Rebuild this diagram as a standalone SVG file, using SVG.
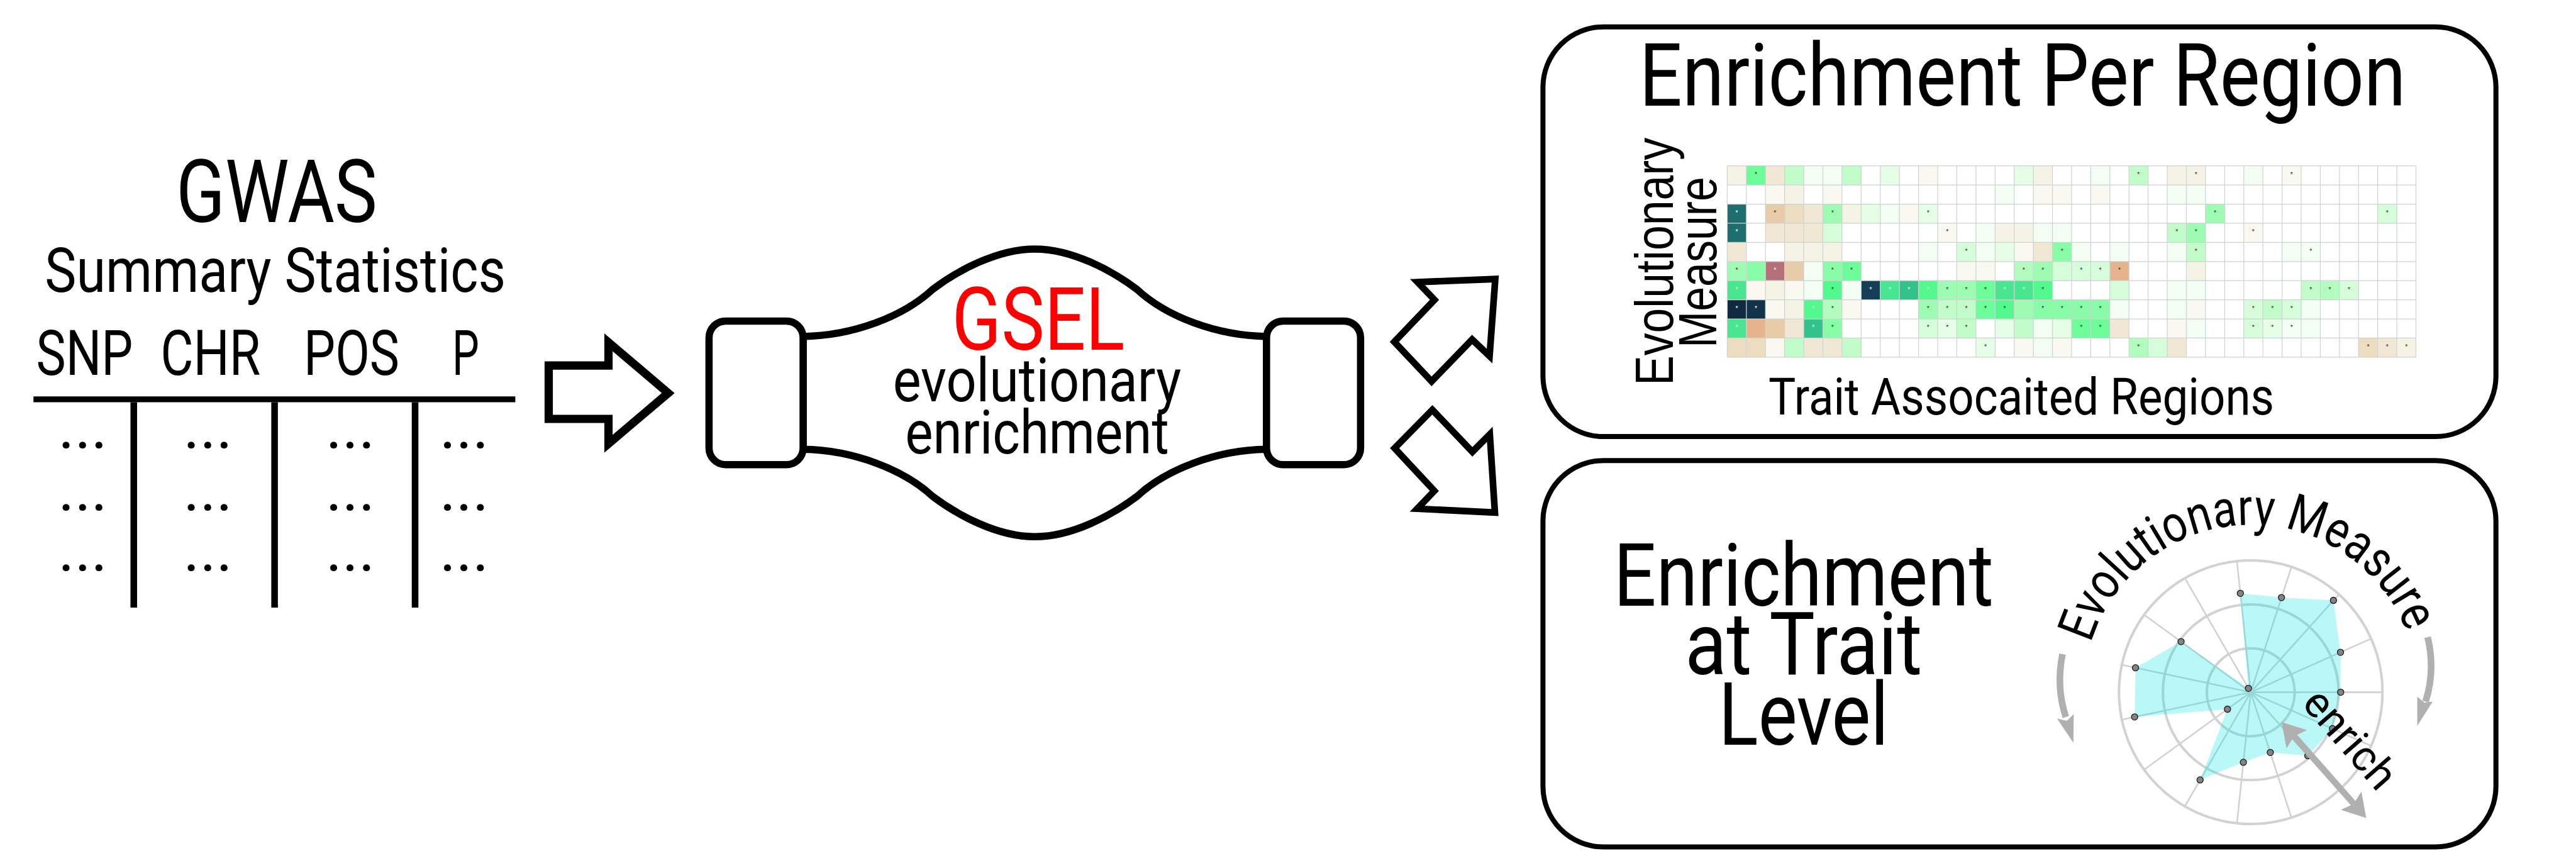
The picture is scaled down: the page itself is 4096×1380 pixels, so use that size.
<svg xmlns="http://www.w3.org/2000/svg" width="4096" height="1380" viewBox="0 0 4096 1380">
<defs>
<style>
text{font-family:Roboto,"Liberation Sans",sans-serif;fill:#000}
.lib{font-family:"Liberation Sans",Arial,sans-serif}
.red{fill:#ff0000}
.ln{stroke:#000;fill:none}
.box{fill:#fff;stroke:#000;stroke-width:8}
.gs{fill:#fff;stroke:#000;stroke-width:11.5}
.blk{fill:#fff;stroke:#000;stroke-miterlimit:12;stroke-linejoin:miter}
.g0{fill:#f3fdf3}.g1{fill:#e6fde6}.g2{fill:#d6fdda}.g3{fill:#c2fcca}.g4{fill:#b2fcc0}.g5{fill:#9efcb2}
.g6{fill:#88fca6}.g7{fill:#6cfc9a}.g8{fill:#52fa8e}.g9{fill:#48e690}.g10{fill:#34c28c}
.t1{fill:#1e6e70}.n1{fill:#143f56}.n2{fill:#0f2a3e}.n3{fill:#113349}
.b0{fill:#f9f9f1}.b1{fill:#f5f3e6}.b2{fill:#f0e8d4}.b3{fill:#ecdcc0}.b4{fill:#e8ccaa}.b5{fill:#e6b48c}.m1{fill:#b4717a}
.hg{fill:none;stroke:#ccd4d2;stroke-width:0.04}
.st{font-family:"Liberation Sans",Arial,sans-serif;font-size:10.5px;text-anchor:middle;fill:#333}
.sw{fill:#fff}
.rg{fill:none;stroke:#d2d2d2}
.dot{fill:#848484;stroke:#1a1a1a;stroke-width:1.3}
.garr{fill:#b0b0b0}
.gsh{fill:none;stroke:#b0b0b0;stroke-width:10.6}
.dt{font-size:99px;text-anchor:middle}
</style>
<path id="arcText" d="M3324.4 1022.8 A266 266 0 0 1 3827.1 1005.3" fill="none"/>
</defs>
<rect x="0" y="0" width="4096" height="1380" fill="#fff"/>

<g id="gwas-table">
<text x="439.9" y="353.1" font-size="139" text-anchor="middle" textLength="320" lengthAdjust="spacingAndGlyphs">GWAS</text>
<text x="437.7" y="463.6" font-size="98.4" text-anchor="middle" textLength="732.7" lengthAdjust="spacingAndGlyphs">Summary Statistics</text>
<text x="57.6" y="596.3" font-size="99.3" textLength="153.7" lengthAdjust="spacingAndGlyphs">SNP</text>
<text x="255.2" y="596.3" font-size="99.3" textLength="159.2" lengthAdjust="spacingAndGlyphs">CHR</text>
<text x="483" y="596.3" font-size="99.3" textLength="152" lengthAdjust="spacingAndGlyphs">POS</text>
<text x="719" y="596.3" font-size="99.3" textLength="42.9" lengthAdjust="spacingAndGlyphs">P</text>
<path class="ln" stroke-width="9.2" d="M53.2 634.8H819.4"/>
<path class="ln" stroke-width="10.5" d="M212.7 639.4V966.1M436.6 639.4V966.1M660 639.4V966.1"/>
<text class="dt" x="131.7" y="712.3">...</text><text class="dt" x="330.7" y="712.3">...</text><text class="dt" x="557.1" y="712.3">...</text><text class="dt" x="738.1" y="712.3">...</text>
<text class="dt" x="131.7" y="811.2">...</text><text class="dt" x="330.7" y="811.2">...</text><text class="dt" x="557.1" y="811.2">...</text><text class="dt" x="738.1" y="811.2">...</text>
<text class="dt" x="131.7" y="907.4">...</text><text class="dt" x="330.7" y="907.4">...</text><text class="dt" x="557.1" y="907.4">...</text><text class="dt" x="738.1" y="907.4">...</text>
</g>

<g id="gsel">
<path class="gs" d="M1277 534.9 C1357.1 533.6 1436.5 503.1 1482.9 460.1 C1522.6 430.3 1585.5 395.9 1645.4 395.9 C1705.3 395.9 1768.2 430.3 1807.9 460.1 C1854.3 503.1 1933.7 533.6 2013.8 534.9 L2013.8 714.3 C1933.7 715.6 1854.3 746.1 1807.9 789.1 C1768.2 818.9 1705.3 853.3 1645.4 853.3 C1585.5 853.3 1522.6 818.9 1482.9 789.1 C1436.5 746.1 1357.1 715.6 1277 714.3 Z"/>
<rect class="gs" x="1127.4" y="510.4" width="149.6" height="228.4" rx="26.5"/>
<rect class="gs" x="2013.8" y="510.4" width="149.6" height="228.4" rx="26.5"/>
<text class="red" x="1651" y="556" font-size="139" text-anchor="middle" textLength="275" lengthAdjust="spacingAndGlyphs">GSEL</text>
<text x="1649" y="638.4" font-size="96" text-anchor="middle" textLength="458.4" lengthAdjust="spacingAndGlyphs">evolutionary</text>
<text x="1649" y="720.9" font-size="96" text-anchor="middle" textLength="419.4" lengthAdjust="spacingAndGlyphs">enrichment</text>
</g>

<g id="connectors">
<polygon class="blk" stroke-width="13.2" points="872.5,581.2 967.5,581.2 967.5,544.2 1062.5,624.9 967.5,705.6 967.5,666 872.5,666"/>
<polygon class="blk" stroke-width="10.6" points="2276.4,606.3 2340.8,539.8 2368.5,566.2 2377.6,443.6 2254,448.5 2280.9,476.7 2217,543.5"/>
<polygon class="blk" stroke-width="10.6" points="2277.5,651.5 2341.2,718.3 2368.9,690.5 2377,814.9 2253.5,808.7 2280.7,780.5 2217.5,712.5"/>
</g>

<g id="enrichment-per-region">
<rect class="box" x="2453.4" y="42.7" width="1515.3" height="651.4" rx="96"/>
<text x="3216" y="168.1" font-size="140" text-anchor="middle" textLength="1219" lengthAdjust="spacingAndGlyphs">Enrichment Per Region</text>
<text class="lib" transform="translate(2659.9 416) rotate(-90)" font-size="86" text-anchor="middle" textLength="394" lengthAdjust="spacingAndGlyphs">Evolutionary</text>
<text class="lib" transform="translate(2729.4 417) rotate(-90)" font-size="86" text-anchor="middle" textLength="272" lengthAdjust="spacingAndGlyphs">Measure</text>
<text x="3214" y="659.4" font-size="81.6" text-anchor="middle" textLength="804" lengthAdjust="spacingAndGlyphs">Trait Assocaited Regions</text>
<g id="heatmap" transform="translate(2746.4 263.7) scale(30.42)">
<rect x="0" y="0" width="36" height="10" fill="#fff"/>
<rect class="b1" x="0" y="0" width="1" height="1"/><rect class="g7" x="1" y="0" width="1" height="1"/><rect class="b2" x="2" y="0" width="1" height="1"/><rect class="g3" x="3" y="0" width="1" height="1"/><rect class="g0" x="4" y="0" width="1" height="1"/><rect class="g0" x="5" y="0" width="1" height="1"/><rect class="g3" x="6" y="0" width="1" height="1"/><rect class="g1" x="8" y="0" width="1" height="1"/><rect class="b0" x="10" y="0" width="1" height="1"/><rect class="g1" x="15" y="0" width="1" height="1"/><rect class="b1" x="16" y="0" width="1" height="1"/><rect class="g0" x="19" y="0" width="1" height="1"/><rect class="g3" x="21" y="0" width="1" height="1"/><rect class="b1" x="23" y="0" width="1" height="1"/><rect class="b1" x="24" y="0" width="1" height="1"/><rect class="g0" x="27" y="0" width="1" height="1"/><rect class="b0" x="29" y="0" width="1" height="1"/>
<rect class="b0" x="2" y="1" width="1" height="1"/><rect class="b1" x="3" y="1" width="1" height="1"/><rect class="b0" x="5" y="1" width="1" height="1"/><rect class="g0" x="14" y="1" width="1" height="1"/><rect class="b0" x="16" y="1" width="1" height="1"/><rect class="b0" x="17" y="1" width="1" height="1"/><rect class="b0" x="19" y="1" width="1" height="1"/><rect class="g0" x="23" y="1" width="1" height="1"/><rect class="g0" x="24" y="1" width="1" height="1"/>
<rect class="t1" x="0" y="2" width="1" height="1"/><rect class="b4" x="2" y="2" width="1" height="1"/><rect class="b3" x="3" y="2" width="1" height="1"/><rect class="b2" x="4" y="2" width="1" height="1"/><rect class="g5" x="5" y="2" width="1" height="1"/><rect class="b1" x="6" y="2" width="1" height="1"/><rect class="g1" x="7" y="2" width="1" height="1"/><rect class="g0" x="8" y="2" width="1" height="1"/><rect class="b0" x="9" y="2" width="1" height="1"/><rect class="g1" x="10" y="2" width="1" height="1"/><rect class="g5" x="25" y="2" width="1" height="1"/><rect class="g2" x="34" y="2" width="1" height="1"/>
<rect class="t1" x="0" y="3" width="1" height="1"/><rect class="b2" x="2" y="3" width="1" height="1"/><rect class="b2" x="3" y="3" width="1" height="1"/><rect class="b2" x="4" y="3" width="1" height="1"/><rect class="g2" x="5" y="3" width="1" height="1"/><rect class="b0" x="11" y="3" width="1" height="1"/><rect class="g0" x="13" y="3" width="1" height="1"/><rect class="b1" x="14" y="3" width="1" height="1"/><rect class="b1" x="15" y="3" width="1" height="1"/><rect class="g0" x="16" y="3" width="1" height="1"/><rect class="g0" x="17" y="3" width="1" height="1"/><rect class="g3" x="23" y="3" width="1" height="1"/><rect class="g5" x="24" y="3" width="1" height="1"/><rect class="b0" x="27" y="3" width="1" height="1"/>
<rect class="b2" x="0" y="4" width="1" height="1"/><rect class="b1" x="3" y="4" width="1" height="1"/><rect class="b1" x="4" y="4" width="1" height="1"/><rect class="b1" x="5" y="4" width="1" height="1"/><rect class="g0" x="10" y="4" width="1" height="1"/><rect class="g2" x="12" y="4" width="1" height="1"/><rect class="g0" x="13" y="4" width="1" height="1"/><rect class="g1" x="14" y="4" width="1" height="1"/><rect class="b0" x="15" y="4" width="1" height="1"/><rect class="b2" x="16" y="4" width="1" height="1"/><rect class="g6" x="17" y="4" width="1" height="1"/><rect class="g0" x="18" y="4" width="1" height="1"/><rect class="g0" x="20" y="4" width="1" height="1"/><rect class="g0" x="23" y="4" width="1" height="1"/><rect class="g3" x="24" y="4" width="1" height="1"/><rect class="g0" x="29" y="4" width="1" height="1"/><rect class="g0" x="30" y="4" width="1" height="1"/>
<rect class="g5" x="0" y="5" width="1" height="1"/><rect class="g6" x="1" y="5" width="1" height="1"/><rect class="m1" x="2" y="5" width="1" height="1"/><rect class="b4" x="3" y="5" width="1" height="1"/><rect class="g0" x="4" y="5" width="1" height="1"/><rect class="g6" x="5" y="5" width="1" height="1"/><rect class="g7" x="6" y="5" width="1" height="1"/><rect class="b0" x="12" y="5" width="1" height="1"/><rect class="b0" x="13" y="5" width="1" height="1"/><rect class="g4" x="15" y="5" width="1" height="1"/><rect class="g5" x="16" y="5" width="1" height="1"/><rect class="g2" x="17" y="5" width="1" height="1"/><rect class="g2" x="18" y="5" width="1" height="1"/><rect class="g2" x="19" y="5" width="1" height="1"/><rect class="b5" x="20" y="5" width="1" height="1"/><rect class="b1" x="24" y="5" width="1" height="1"/>
<rect class="g9" x="0" y="6" width="1" height="1"/><rect class="b0" x="1" y="6" width="1" height="1"/><rect class="b1" x="2" y="6" width="1" height="1"/><rect class="b0" x="3" y="6" width="1" height="1"/><rect class="g0" x="4" y="6" width="1" height="1"/><rect class="g8" x="5" y="6" width="1" height="1"/><rect class="g0" x="6" y="6" width="1" height="1"/><rect class="n1" x="7" y="6" width="1" height="1"/><rect class="g9" x="8" y="6" width="1" height="1"/><rect class="g10" x="9" y="6" width="1" height="1"/><rect class="g8" x="10" y="6" width="1" height="1"/><rect class="g5" x="11" y="6" width="1" height="1"/><rect class="g5" x="12" y="6" width="1" height="1"/><rect class="g7" x="13" y="6" width="1" height="1"/><rect class="g9" x="14" y="6" width="1" height="1"/><rect class="g9" x="15" y="6" width="1" height="1"/><rect class="g8" x="16" y="6" width="1" height="1"/><rect class="g2" x="20" y="6" width="1" height="1"/><rect class="g0" x="23" y="6" width="1" height="1"/><rect class="g0" x="24" y="6" width="1" height="1"/><rect class="g3" x="30" y="6" width="1" height="1"/><rect class="g4" x="31" y="6" width="1" height="1"/><rect class="g2" x="32" y="6" width="1" height="1"/>
<rect class="n2" x="0" y="7" width="1" height="1"/><rect class="n3" x="1" y="7" width="1" height="1"/><rect class="b0" x="2" y="7" width="1" height="1"/><rect class="b1" x="3" y="7" width="1" height="1"/><rect class="g8" x="4" y="7" width="1" height="1"/><rect class="g4" x="5" y="7" width="1" height="1"/><rect class="b0" x="6" y="7" width="1" height="1"/><rect class="g5" x="10" y="7" width="1" height="1"/><rect class="g3" x="11" y="7" width="1" height="1"/><rect class="g3" x="12" y="7" width="1" height="1"/><rect class="g7" x="13" y="7" width="1" height="1"/><rect class="g8" x="14" y="7" width="1" height="1"/><rect class="g5" x="15" y="7" width="1" height="1"/><rect class="g6" x="16" y="7" width="1" height="1"/><rect class="g6" x="17" y="7" width="1" height="1"/><rect class="g6" x="18" y="7" width="1" height="1"/><rect class="g6" x="19" y="7" width="1" height="1"/><rect class="g0" x="20" y="7" width="1" height="1"/><rect class="g0" x="23" y="7" width="1" height="1"/><rect class="b0" x="24" y="7" width="1" height="1"/><rect class="g2" x="27" y="7" width="1" height="1"/><rect class="g3" x="28" y="7" width="1" height="1"/><rect class="g2" x="29" y="7" width="1" height="1"/><rect class="g0" x="30" y="7" width="1" height="1"/>
<rect class="g9" x="0" y="8" width="1" height="1"/><rect class="b5" x="1" y="8" width="1" height="1"/><rect class="b4" x="2" y="8" width="1" height="1"/><rect class="b2" x="3" y="8" width="1" height="1"/><rect class="g10" x="4" y="8" width="1" height="1"/><rect class="g6" x="5" y="8" width="1" height="1"/><rect class="g2" x="10" y="8" width="1" height="1"/><rect class="g1" x="11" y="8" width="1" height="1"/><rect class="g3" x="12" y="8" width="1" height="1"/><rect class="g1" x="14" y="8" width="1" height="1"/><rect class="g3" x="15" y="8" width="1" height="1"/><rect class="g0" x="16" y="8" width="1" height="1"/><rect class="g1" x="17" y="8" width="1" height="1"/><rect class="g7" x="18" y="8" width="1" height="1"/><rect class="g7" x="19" y="8" width="1" height="1"/><rect class="b2" x="20" y="8" width="1" height="1"/><rect class="b0" x="23" y="8" width="1" height="1"/><rect class="g0" x="24" y="8" width="1" height="1"/><rect class="g2" x="27" y="8" width="1" height="1"/><rect class="g1" x="28" y="8" width="1" height="1"/><rect class="g0" x="29" y="8" width="1" height="1"/><rect class="g0" x="30" y="8" width="1" height="1"/>
<rect class="b3" x="0" y="9" width="1" height="1"/><rect class="b3" x="1" y="9" width="1" height="1"/><rect class="b0" x="2" y="9" width="1" height="1"/><rect class="g3" x="3" y="9" width="1" height="1"/><rect class="b2" x="4" y="9" width="1" height="1"/><rect class="b2" x="5" y="9" width="1" height="1"/><rect class="g3" x="6" y="9" width="1" height="1"/><rect class="g1" x="13" y="9" width="1" height="1"/><rect class="b0" x="15" y="9" width="1" height="1"/><rect class="g0" x="16" y="9" width="1" height="1"/><rect class="b0" x="17" y="9" width="1" height="1"/><rect class="g4" x="21" y="9" width="1" height="1"/><rect class="g2" x="22" y="9" width="1" height="1"/><rect class="b2" x="23" y="9" width="1" height="1"/><rect class="b3" x="33" y="9" width="1" height="1"/><rect class="b2" x="34" y="9" width="1" height="1"/><rect class="b1" x="35" y="9" width="1" height="1"/>
<path class="hg" d="M0 0V10M1 0V10M2 0V10M3 0V10M4 0V10M5 0V10M6 0V10M7 0V10M8 0V10M9 0V10M10 0V10M11 0V10M12 0V10M13 0V10M14 0V10M15 0V10M16 0V10M17 0V10M18 0V10M19 0V10M20 0V10M21 0V10M22 0V10M23 0V10M24 0V10M25 0V10M26 0V10M27 0V10M28 0V10M29 0V10M30 0V10M31 0V10M32 0V10M33 0V10M34 0V10M35 0V10M36 0V10M0 0H36M0 1H36M0 2H36M0 3H36M0 4H36M0 5H36M0 6H36M0 7H36M0 8H36M0 9H36M0 10H36"/>
</g>
<g id="heatmap-stars">
<text class="st" x="2792" y="281">*</text><text class="st" x="3400.4" y="281">*</text><text class="st" x="3491.7" y="281">*</text><text class="st" x="3643.8" y="281">*</text>
<text class="st sw" x="2761.6" y="341.9">*</text><text class="st" x="2822.4" y="341.9">*</text><text class="st" x="2913.7" y="341.9">*</text><text class="st" x="3065.8" y="341.9">*</text><text class="st" x="3522.1" y="341.9">*</text><text class="st" x="3795.9" y="341.9">*</text>
<text class="st sw" x="2761.6" y="372.3">*</text><text class="st" x="3096.2" y="372.3">*</text><text class="st" x="3461.3" y="372.3">*</text><text class="st" x="3491.7" y="372.3">*</text><text class="st" x="3582.9" y="372.3">*</text>
<text class="st" x="3126.6" y="402.7">*</text><text class="st" x="3278.7" y="402.7">*</text><text class="st" x="3491.7" y="402.7">*</text><text class="st" x="3674.2" y="402.7">*</text>
<text class="st" x="2761.6" y="433.1">*</text><text class="st sw" x="2822.4" y="433.1">*</text><text class="st" x="2913.7" y="433.1">*</text><text class="st" x="2944.1" y="433.1">*</text><text class="st" x="3217.9" y="433.1">*</text><text class="st" x="3248.3" y="433.1">*</text><text class="st" x="3309.2" y="433.1">*</text><text class="st" x="3339.6" y="433.1">*</text><text class="st" x="3370" y="433.1">*</text>
<text class="st sw" x="2761.6" y="463.5">*</text><text class="st" x="2913.7" y="463.5">*</text><text class="st sw" x="2974.5" y="463.5">*</text><text class="st sw" x="3005" y="463.5">*</text><text class="st sw" x="3035.4" y="463.5">*</text><text class="st sw" x="3065.8" y="463.5">*</text><text class="st" x="3096.2" y="463.5">*</text><text class="st" x="3126.6" y="463.5">*</text><text class="st" x="3157.1" y="463.5">*</text><text class="st sw" x="3187.5" y="463.5">*</text><text class="st sw" x="3217.9" y="463.5">*</text><text class="st" x="3248.3" y="463.5">*</text><text class="st" x="3674.2" y="463.5">*</text><text class="st" x="3704.6" y="463.5">*</text><text class="st" x="3735" y="463.5">*</text>
<text class="st sw" x="2761.6" y="494">*</text><text class="st sw" x="2792" y="494">*</text><text class="st sw" x="2883.3" y="494">*</text><text class="st" x="2913.7" y="494">*</text><text class="st" x="3065.8" y="494">*</text><text class="st" x="3096.2" y="494">*</text><text class="st" x="3126.6" y="494">*</text><text class="st" x="3157.1" y="494">*</text><text class="st" x="3187.5" y="494">*</text><text class="st" x="3248.3" y="494">*</text><text class="st" x="3278.7" y="494">*</text><text class="st" x="3309.2" y="494">*</text><text class="st" x="3339.6" y="494">*</text><text class="st" x="3582.9" y="494">*</text><text class="st" x="3613.4" y="494">*</text><text class="st" x="3643.8" y="494">*</text>
<text class="st sw" x="2761.6" y="524.4">*</text><text class="st sw" x="2883.3" y="524.4">*</text><text class="st" x="2913.7" y="524.4">*</text><text class="st" x="3065.8" y="524.4">*</text><text class="st" x="3096.2" y="524.4">*</text><text class="st" x="3126.6" y="524.4">*</text><text class="st" x="3309.2" y="524.4">*</text><text class="st" x="3339.6" y="524.4">*</text><text class="st" x="3582.9" y="524.4">*</text><text class="st" x="3613.4" y="524.4">*</text><text class="st" x="3643.8" y="524.4">*</text>
<text class="st" x="3157.1" y="554.8">*</text><text class="st" x="3400.4" y="554.8">*</text><text class="st" x="3765.5" y="554.8">*</text><text class="st" x="3795.9" y="554.8">*</text><text class="st" x="3826.3" y="554.8">*</text>
</g>
</g>

<g id="enrichment-trait-level">
<rect class="box" x="2453.4" y="732.2" width="1515.3" height="614.3" rx="96"/>
<text x="2867.8" y="963.2" font-size="139" text-anchor="middle" textLength="604" lengthAdjust="spacingAndGlyphs">Enrichment</text>
<text x="2867.8" y="1072.4" font-size="139" text-anchor="middle" textLength="377" lengthAdjust="spacingAndGlyphs">at Trait</text>
<text x="2867.8" y="1183.7" font-size="139" text-anchor="middle" textLength="270" lengthAdjust="spacingAndGlyphs">Level</text>
<g id="radar">
<circle class="rg" stroke-width="4" cx="3578.8" cy="1100.6" r="69.8"/>
<circle class="rg" stroke-width="4" cx="3578.8" cy="1100.6" r="139.7"/>
<circle class="rg" stroke-width="4" cx="3578.8" cy="1100.6" r="209.5"/>
<path class="rg" stroke-width="2.6" d="M3578.8 1100.6L3556.9 892.2M3578.8 1100.6L3643.5 901.3M3578.8 1100.6L3719 944.9M3578.8 1100.6L3770.2 1015.4M3578.8 1100.6L3788.3 1100.6M3578.8 1100.6L3770.2 1185.8M3578.8 1100.6L3719 1256.3M3578.8 1100.6L3643.5 1299.9M3578.8 1100.6L3556.9 1309M3578.8 1100.6L3474.1 1282M3578.8 1100.6L3409.3 1223.7M3578.8 1100.6L3373.9 1144.2M3578.8 1100.6L3373.9 1057M3578.8 1100.6L3409.3 977.5M3578.8 1100.6L3474.1 919.2"/>
<polygon fill="#00e0e0" fill-opacity="0.27" points="3562.3,943.3 3627.7,950.1 3710.3,954.5 3721.5,1037.1 3721.8,1100.6 3708.8,1158.5 3669.6,1201.4 3609.9,1196.3 3567.1,1211.9 3498.3,1239.9 3541.8,1127.5 3394.2,1139.8 3395.6,1061.7 3468,1020.1 3575.1,1094.3"/>
<circle class="dot" cx="3562.3" cy="943.3" r="5"/><circle class="dot" cx="3627.7" cy="950.1" r="5"/><circle class="dot" cx="3710.3" cy="954.5" r="5"/><circle class="dot" cx="3721.5" cy="1037.1" r="5"/><circle class="dot" cx="3721.8" cy="1100.6" r="5"/><circle class="dot" cx="3708.8" cy="1158.5" r="5"/><circle class="dot" cx="3669.6" cy="1201.4" r="5"/><circle class="dot" cx="3609.9" cy="1196.3" r="5"/><circle class="dot" cx="3567.1" cy="1211.9" r="5"/><circle class="dot" cx="3498.3" cy="1239.9" r="5"/><circle class="dot" cx="3541.8" cy="1127.5" r="5"/><circle class="dot" cx="3394.2" cy="1139.8" r="5"/><circle class="dot" cx="3395.6" cy="1061.7" r="5"/><circle class="dot" cx="3468" cy="1020.1" r="5"/><circle class="dot" cx="3575.1" cy="1094.3" r="5"/>
<path class="gsh" d="M3279.5 1040 Q3269 1092.3 3284.8 1140"/>
<polygon class="garr" points="3270.9,1142.6 3296.8,1181 3297.4,1135.3 3286.5,1146"/>
<path class="gsh" d="M3860.1 1012.9 Q3872.7 1065.8 3856.8 1115.5"/>
<polygon class="garr" points="3843.6,1107.5 3843.6,1153.9 3868.1,1115.5 3855,1117"/>
<path fill="none" stroke="#b0b0b0" stroke-width="10" d="M3647.8 1170.4L3742.6 1277.9"/>
<polygon class="garr" points="3627.9,1147.9 3668.3,1160.7 3647.8,1170.4 3635.7,1189.7"/>
<polygon class="garr" points="3762.5,1300.4 3754.7,1258.6 3742.6,1277.9 3722.1,1287.6"/>
<text font-size="82"><textPath href="#arcText" textLength="659" lengthAdjust="spacingAndGlyphs">Evolutionary Measure</textPath></text>
<text transform="translate(3658.2 1119.4) rotate(49)" font-size="68.8" textLength="186.7" lengthAdjust="spacingAndGlyphs">enrich</text>
</g>
</g>
</svg>
